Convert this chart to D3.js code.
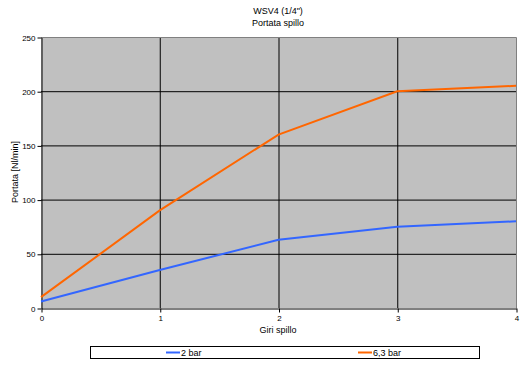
<!DOCTYPE html>
<html><head><meta charset="utf-8">
<script src="https://cdn.jsdelivr.net/npm/d3@7"></script>
<style>body{margin:0;background:#fff}text{font-family:Arial,"Liberation Sans",sans-serif;}</style>
</head><body>
<svg id="c" width="529" height="366"></svg>
<script>
const giri = [0, 1, 2, 3, 4];
const bar2 = [6, 35, 63, 75, 80];
const bar63 = [10, 90, 160, 200, 205];
const seriesNames = ["2 bar", "6,3 bar"];
const seriesColors = ["#3366FF", "#FF6600"];
const yTicks = [0, 50, 100, 150, 200, 250];
const xTicks = [0, 1, 2, 3, 4];

const svg = d3.select("#c");
const L = 41, R = 516, T = 37, B = 308;
const x = d3.scaleLinear().domain([0, 4]).range([L, R]);
const y = d3.scaleLinear().domain([0, 250]).range([B, T]);

svg.append("rect").attr("x", L).attr("y", T).attr("width", R - L).attr("height", B - T).attr("fill", "#C0C0C0");

// gridlines
svg.append("g").selectAll("line").data(yTicks.filter(d => d > 0 && d < 250)).join("line")
  .attr("x1", L).attr("x2", R).attr("y1", d => y(d) + 0.5).attr("y2", d => y(d) + 0.5)
  .attr("stroke", "#000").attr("stroke-width", 1);
svg.append("g").selectAll("line").data(xTicks.filter(d => d > 0 && d < 4)).join("line")
  .attr("y1", T).attr("y2", B).attr("x1", d => x(d) + 0.5).attr("x2", d => x(d) + 0.5)
  .attr("stroke", "#000").attr("stroke-width", 1);
// border top/right
svg.append("path").attr("d", `M${L},${T + 0.5}H${R + 0.5}V${B}`).attr("fill", "none").attr("stroke", "#808080");

// axes
const yAxis = d3.axisLeft(y).tickValues(yTicks).tickSize(4).tickSizeOuter(0).tickFormat(d3.format("d"));
const gy = svg.append("g").attr("transform", `translate(${L + 0.5},0.5)`).call(yAxis);
const xAxis = d3.axisBottom(x).tickValues(xTicks).tickSize(4).tickSizeOuter(0).tickFormat(d3.format("d"));
const gx = svg.append("g").attr("transform", `translate(0.5,${B + 0.5})`).call(xAxis);
[gy, gx].forEach(g => {
  g.selectAll("path,line").attr("stroke", "#000");
  g.selectAll("text").attr("font-size", 8).attr("fill", "#000");
});
gy.selectAll("text").attr("x", -6);
gx.selectAll("text").attr("y", 7);

// lines
const line = d3.line().x((d, i) => x(giri[i])).y(d => y(d));
[bar2, bar63].forEach((s, k) => {
  svg.append("path").datum(s).attr("d", line).attr("fill", "none")
    .attr("stroke", seriesColors[k]).attr("stroke-width", 2);
});

// titles
svg.append("text").attr("x", 278).attr("y", 14).attr("text-anchor", "middle").attr("font-size", 9).text('WSV4 (1/4")');
svg.append("text").attr("x", 278).attr("y", 26).attr("text-anchor", "middle").attr("font-size", 9).text("Portata spillo");
svg.append("text").attr("x", 278).attr("y", 333).attr("text-anchor", "middle").attr("font-size", 9).text("Giri spillo");
svg.append("text").attr("transform", "translate(18,172) rotate(-90)").attr("text-anchor", "middle").attr("font-size", 9).text("Portata [Nl/min]");

// legend
svg.append("rect").attr("x", 90.5).attr("y", 346.5).attr("width", 389).attr("height", 12).attr("fill", "#fff").attr("stroke", "#000");
const lx = [166, 358];
seriesNames.forEach((n, k) => {
  svg.append("line").attr("x1", lx[k]).attr("x2", lx[k] + 14).attr("y1", 352.5).attr("y2", 352.5)
    .attr("stroke", seriesColors[k]).attr("stroke-width", 2);
  svg.append("text").attr("x", lx[k] + 15).attr("y", 356).attr("font-size", 9).text(n);
});
</script>
</body></html>
